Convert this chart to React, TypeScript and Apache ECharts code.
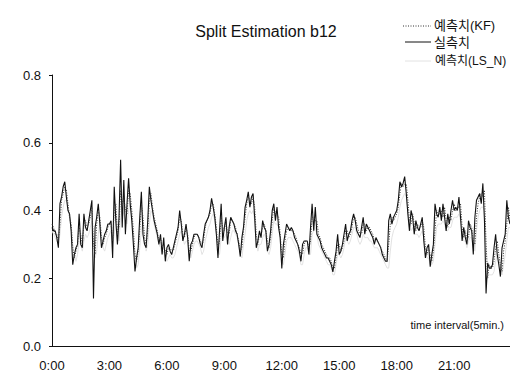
import React, { useEffect, useRef } from "react";
import * as echarts from "echarts";

const tickLabels = ["0:00", "3:00", "6:00", "9:00", "12:00", "15:00", "18:00", "21:00"];
const seriesNames = ["예측치(KF)", "실측치", "예측치(LS_N)"];

// 실측치 (measured), 5-minute steps from 0:00
const actual = [
  0.35, 0.34, 0.34, 0.32, 0.29, 0.42, 0.44, 0.47, 0.485, 0.44, 0.40, 0.39,
  0.34, 0.24, 0.27, 0.29, 0.30, 0.39, 0.30, 0.29, 0.39, 0.35, 0.34, 0.37,
  0.40, 0.43, 0.14, 0.35, 0.38, 0.42, 0.36, 0.29, 0.31, 0.33, 0.34, 0.36,
  0.36, 0.37, 0.26, 0.47, 0.37, 0.30, 0.38, 0.55, 0.35, 0.49, 0.33, 0.42,
  0.495, 0.42, 0.37, 0.30, 0.22, 0.26, 0.29, 0.38, 0.455, 0.33, 0.30, 0.29,
  0.37, 0.47, 0.43, 0.40, 0.37, 0.35, 0.33, 0.30, 0.33, 0.27, 0.32, 0.25,
  0.29, 0.30, 0.28, 0.27, 0.29, 0.31, 0.33, 0.35, 0.40, 0.36, 0.31, 0.33,
  0.36, 0.32, 0.25, 0.30, 0.31, 0.33, 0.33, 0.33, 0.32, 0.30, 0.29, 0.33,
  0.36, 0.37, 0.38, 0.40, 0.436, 0.41, 0.38, 0.33, 0.26, 0.34, 0.42, 0.31,
  0.35, 0.38, 0.30, 0.35, 0.38, 0.37, 0.36, 0.34, 0.33, 0.30, 0.264, 0.32,
  0.35, 0.41, 0.43, 0.455, 0.41, 0.44, 0.45, 0.38, 0.29, 0.31, 0.34, 0.32,
  0.37, 0.35, 0.34, 0.28, 0.30, 0.34, 0.40, 0.42, 0.37, 0.41, 0.35, 0.32,
  0.229, 0.30, 0.33, 0.36, 0.35, 0.34, 0.35, 0.34, 0.32, 0.31, 0.30, 0.28,
  0.25, 0.30, 0.31, 0.31, 0.31, 0.27, 0.35, 0.42, 0.34, 0.41, 0.33, 0.32,
  0.31, 0.29, 0.28, 0.27, 0.26, 0.26, 0.25, 0.24, 0.219, 0.25, 0.28, 0.33,
  0.27, 0.28, 0.30, 0.33, 0.36, 0.31, 0.33, 0.34, 0.37, 0.39, 0.37, 0.34,
  0.33, 0.32, 0.35, 0.38, 0.33, 0.36, 0.35, 0.34, 0.33, 0.32, 0.30, 0.32,
  0.31, 0.30, 0.29, 0.27, 0.26, 0.25, 0.25, 0.37, 0.39, 0.36, 0.38, 0.39,
  0.40, 0.43, 0.485, 0.47, 0.48, 0.50, 0.45, 0.39, 0.34, 0.40, 0.38, 0.33,
  0.37, 0.35, 0.34, 0.36, 0.38, 0.31, 0.26, 0.29, 0.30, 0.234, 0.27, 0.30,
  0.42, 0.39, 0.38, 0.41, 0.37, 0.42, 0.38, 0.34, 0.39, 0.36, 0.40, 0.43,
  0.40, 0.41, 0.40, 0.44, 0.38, 0.31, 0.35, 0.32, 0.30, 0.37, 0.35, 0.34,
  0.27, 0.38, 0.43, 0.44, 0.45, 0.42, 0.48, 0.37, 0.155, 0.245, 0.23, 0.23,
  0.24, 0.29, 0.33, 0.27, 0.24, 0.205, 0.29, 0.31, 0.33, 0.43, 0.38, 0.36,
];

// 예측치(KF)
const kf = [
  0.36, 0.35, 0.33, 0.33, 0.31, 0.36, 0.43, 0.45, 0.47, 0.46, 0.42, 0.38,
  0.36, 0.29, 0.26, 0.28, 0.30, 0.35, 0.33, 0.30, 0.36, 0.37, 0.35, 0.36,
  0.38, 0.41, 0.30, 0.27, 0.36, 0.40, 0.38, 0.32, 0.30, 0.32, 0.33, 0.35,
  0.36, 0.36, 0.31, 0.40, 0.42, 0.33, 0.35, 0.46, 0.42, 0.44, 0.40, 0.39,
  0.46, 0.45, 0.40, 0.34, 0.27, 0.25, 0.28, 0.34, 0.42, 0.38, 0.32, 0.30,
  0.34, 0.43, 0.45, 0.41, 0.38, 0.36, 0.34, 0.31, 0.32, 0.29, 0.30, 0.28,
  0.27, 0.29, 0.29, 0.28, 0.28, 0.30, 0.32, 0.34, 0.38, 0.37, 0.33, 0.32,
  0.35, 0.33, 0.28, 0.28, 0.30, 0.32, 0.33, 0.33, 0.32, 0.31, 0.30, 0.31,
  0.35, 0.37, 0.38, 0.39, 0.42, 0.42, 0.39, 0.35, 0.29, 0.31, 0.38, 0.35,
  0.34, 0.37, 0.33, 0.33, 0.37, 0.37, 0.36, 0.35, 0.33, 0.31, 0.28, 0.29,
  0.34, 0.38, 0.42, 0.44, 0.43, 0.42, 0.44, 0.41, 0.33, 0.30, 0.33, 0.33,
  0.35, 0.36, 0.34, 0.31, 0.29, 0.32, 0.37, 0.41, 0.39, 0.39, 0.38, 0.33,
  0.27, 0.26, 0.31, 0.34, 0.35, 0.35, 0.34, 0.34, 0.33, 0.32, 0.30, 0.29,
  0.27, 0.27, 0.30, 0.31, 0.31, 0.29, 0.31, 0.38, 0.38, 0.37, 0.37, 0.33,
  0.32, 0.30, 0.29, 0.28, 0.27, 0.26, 0.26, 0.25, 0.23, 0.23, 0.26, 0.30,
  0.30, 0.28, 0.29, 0.31, 0.34, 0.34, 0.32, 0.33, 0.35, 0.38, 0.38, 0.36,
  0.34, 0.33, 0.33, 0.36, 0.36, 0.34, 0.35, 0.35, 0.34, 0.33, 0.31, 0.31,
  0.31, 0.30, 0.29, 0.28, 0.27, 0.26, 0.25, 0.30, 0.36, 0.38, 0.37, 0.38,
  0.39, 0.41, 0.45, 0.48, 0.47, 0.48, 0.48, 0.43, 0.37, 0.36, 0.39, 0.36,
  0.34, 0.36, 0.35, 0.35, 0.37, 0.35, 0.29, 0.27, 0.29, 0.27, 0.25, 0.28,
  0.34, 0.40, 0.39, 0.39, 0.40, 0.38, 0.41, 0.37, 0.35, 0.38, 0.37, 0.40,
  0.42, 0.40, 0.41, 0.41, 0.42, 0.35, 0.32, 0.34, 0.31, 0.32, 0.36, 0.35,
  0.31, 0.30, 0.38, 0.42, 0.44, 0.45, 0.44, 0.46, 0.30, 0.20, 0.24, 0.23,
  0.23, 0.25, 0.29, 0.31, 0.27, 0.24, 0.22, 0.28, 0.31, 0.36, 0.41, 0.37,
];

// 예측치(LS_N) — printed very faintly in the source
const lsn = [
  0.34, 0.33, 0.32, 0.31, 0.30, 0.33, 0.38, 0.41, 0.43, 0.43, 0.41, 0.38,
  0.35, 0.30, 0.27, 0.25, 0.27, 0.31, 0.30, 0.28, 0.31, 0.33, 0.32, 0.33,
  0.35, 0.37, 0.32, 0.26, 0.28, 0.33, 0.36, 0.33, 0.29, 0.28, 0.30, 0.32,
  0.33, 0.34, 0.30, 0.33, 0.38, 0.35, 0.31, 0.38, 0.40, 0.39, 0.37, 0.36,
  0.40, 0.42, 0.38, 0.33, 0.27, 0.23, 0.24, 0.29, 0.34, 0.37, 0.32, 0.28,
  0.30, 0.36, 0.40, 0.39, 0.36, 0.34, 0.32, 0.30, 0.29, 0.27, 0.28, 0.26,
  0.25, 0.26, 0.27, 0.26, 0.26, 0.27, 0.29, 0.31, 0.33, 0.34, 0.32, 0.30,
  0.31, 0.31, 0.27, 0.26, 0.28, 0.30, 0.31, 0.31, 0.30, 0.29, 0.27, 0.28,
  0.31, 0.33, 0.35, 0.36, 0.38, 0.39, 0.37, 0.33, 0.28, 0.27, 0.32, 0.33,
  0.32, 0.33, 0.31, 0.30, 0.32, 0.34, 0.34, 0.33, 0.32, 0.30, 0.27, 0.26,
  0.30, 0.33, 0.37, 0.39, 0.40, 0.39, 0.40, 0.37, 0.31, 0.28, 0.30, 0.30,
  0.32, 0.33, 0.32, 0.28, 0.27, 0.29, 0.33, 0.37, 0.36, 0.36, 0.35, 0.31,
  0.25, 0.24, 0.27, 0.31, 0.32, 0.32, 0.32, 0.31, 0.30, 0.29, 0.28, 0.27,
  0.24, 0.24, 0.27, 0.29, 0.29, 0.27, 0.27, 0.33, 0.34, 0.35, 0.33, 0.30,
  0.29, 0.28, 0.27, 0.26, 0.25, 0.24, 0.24, 0.23, 0.21, 0.21, 0.24, 0.27,
  0.27, 0.26, 0.27, 0.29, 0.32, 0.31, 0.30, 0.31, 0.33, 0.35, 0.35, 0.33,
  0.31, 0.30, 0.31, 0.33, 0.32, 0.32, 0.32, 0.31, 0.31, 0.30, 0.29, 0.29,
  0.29, 0.28, 0.27, 0.26, 0.25, 0.24, 0.23, 0.23, 0.28, 0.32, 0.34, 0.35,
  0.36, 0.38, 0.41, 0.43, 0.44, 0.45, 0.44, 0.40, 0.35, 0.34, 0.35, 0.33,
  0.33, 0.33, 0.32, 0.33, 0.34, 0.32, 0.28, 0.26, 0.26, 0.24, 0.24, 0.25,
  0.30, 0.35, 0.36, 0.36, 0.36, 0.37, 0.36, 0.34, 0.34, 0.35, 0.35, 0.37,
  0.38, 0.38, 0.38, 0.39, 0.37, 0.33, 0.31, 0.31, 0.29, 0.31, 0.32, 0.32,
  0.29, 0.28, 0.34, 0.38, 0.40, 0.41, 0.41, 0.40, 0.30, 0.22, 0.21, 0.21,
  0.21, 0.22, 0.25, 0.27, 0.26, 0.23, 0.21, 0.24, 0.27, 0.31, 0.35, 0.35,
];

const FONT = "'Liberation Sans', 'Noto Sans CJK KR', sans-serif";
const KF_COLOR = "#333";
const ACT_COLOR = "#111";
const LSN_COLOR = "#e2e2e2";
const KF_DASH = [1, 1.5];

export default function App() {
  const ref = useRef<HTMLDivElement>(null);
  useEffect(() => {
    if (!ref.current) return;
    const chart = echarts.init(ref.current, null, { renderer: "svg" });
    const categories = actual.map((_, i) => String(i));
    const perTick = Math.round(actual.length / tickLabels.length);
    const legendText = (text: string, x: number, y: number, size: number) => ({
      type: "text",
      x,
      y,
      style: {
        text,
        fontFamily: FONT,
        fontSize: size,
        fill: "#111",
        textAlign: "left",
        verticalAlign: "middle",
      },
    });
    chart.setOption({
      animation: false,
      backgroundColor: "#ffffff",
      grid: { left: 52, right: 0, top: 75, bottom: 28, containLabel: false },
      xAxis: {
        type: "category",
        data: categories,
        boundaryGap: false,
        axisLine: { lineStyle: { color: "#111", width: 1 } },
        axisTick: { show: false },
        axisLabel: {
          interval: perTick - 1,
          margin: 13,
          fontFamily: FONT,
          fontSize: 13,
          color: "#111",
          formatter: (_v: string, idx: number) =>
            idx % perTick === 0 ? tickLabels[idx / perTick] ?? "" : "",
        },
        splitLine: { show: false },
      },
      yAxis: {
        type: "value",
        min: 0,
        max: 0.8,
        interval: 0.2,
        axisLine: { show: true, lineStyle: { color: "#111", width: 1 } },
        axisTick: { show: true, length: 3, lineStyle: { color: "#111" } },
        axisLabel: {
          margin: 11,
          fontFamily: FONT,
          fontSize: 13,
          color: "#111",
          formatter: (v: number) => v.toFixed(1),
        },
        splitLine: { show: false },
      },
      graphic: [
        {
          type: "text",
          x: 266,
          y: 31,
          style: {
            text: "Split Estimation b12",
            fontFamily: FONT,
            fontSize: 16,
            fill: "#111",
            textAlign: "center",
            verticalAlign: "middle",
          },
        },
        {
          type: "text",
          x: 504,
          y: 325,
          style: {
            text: "time interval(5min.)",
            fontFamily: FONT,
            fontSize: 11,
            fill: "#111",
            textAlign: "right",
            verticalAlign: "middle",
          },
        },
        // legend
        {
          type: "line",
          shape: { x1: 403, y1: 26, x2: 431, y2: 26 },
          style: { stroke: KF_COLOR, lineWidth: 1, lineDash: KF_DASH },
        },
        legendText(seriesNames[0], 434, 25, 13),
        {
          type: "line",
          shape: { x1: 405, y1: 42, x2: 431, y2: 42 },
          style: { stroke: ACT_COLOR, lineWidth: 1 },
        },
        legendText(seriesNames[1], 434, 42, 13),
        {
          type: "line",
          shape: { x1: 405, y1: 61, x2: 431, y2: 61 },
          style: { stroke: LSN_COLOR, lineWidth: 1 },
        },
        legendText(seriesNames[2], 435, 61, 12),
      ],
      series: [
        {
          name: seriesNames[2],
          type: "line",
          data: lsn,
          symbol: "none",
          z: 1,
          lineStyle: { color: LSN_COLOR, width: 1 },
          itemStyle: { color: LSN_COLOR },
        },
        {
          name: seriesNames[1],
          type: "line",
          data: actual,
          symbol: "none",
          z: 2,
          lineStyle: { color: ACT_COLOR, width: 1.1 },
          itemStyle: { color: ACT_COLOR },
        },
        {
          name: seriesNames[0],
          type: "line",
          data: kf,
          symbol: "none",
          z: 3,
          lineStyle: { color: KF_COLOR, width: 1, type: KF_DASH },
          itemStyle: { color: KF_COLOR },
        },
      ],
    });
    return () => chart.dispose();
  }, []);
  return (
    <div
      ref={ref}
      style={{ position: "fixed", left: 0, top: 0, width: 510, height: 374, background: "#fff" }}
    />
  );
}
